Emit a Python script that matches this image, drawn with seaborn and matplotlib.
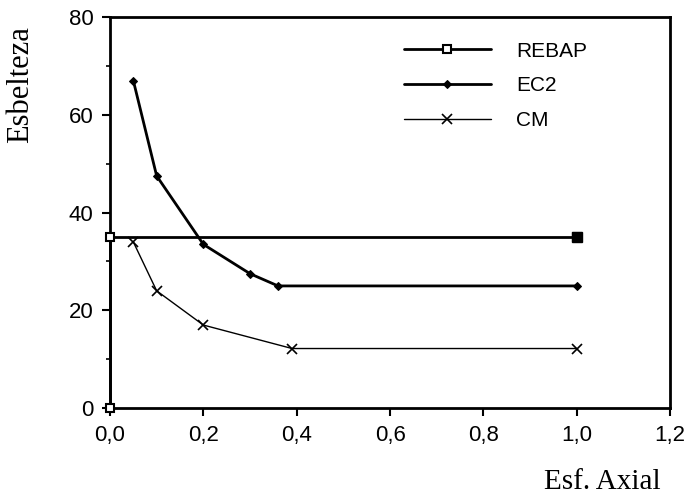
import matplotlib
matplotlib.use("Agg")
import matplotlib.pyplot as plt
import seaborn as sns
import pandas as pd
from matplotlib.ticker import MultipleLocator, FuncFormatter

rebap_x = [0.0, 0.0, 1.0]
rebap_y = [0.0, 35.0, 35.0]
ec2_x = [0.05, 0.10, 0.20, 0.30, 0.36, 1.0]
ec2_y = [67.0, 47.5, 33.5, 27.5, 25.0, 25.0]
cm_x = [0.05, 0.10, 0.20, 0.39, 1.0]
cm_y = [34.0, 24.0, 17.0, 12.2, 12.2]
x_ticks = [0.0, 0.2, 0.4, 0.6, 0.8, 1.0, 1.2]
y_ticks = [0, 20, 40, 60, 80]

sns.set_style("ticks")
plt.rcParams['font.family'] = ['Liberation Sans', 'DejaVu Sans']
plt.rcParams['text.color'] = 'black'

fig = plt.figure(figsize=(6.96, 4.99), dpi=100)
ax = fig.add_axes([0.158, 0.182, 0.805, 0.784])

series = [
    ("REBAP", rebap_x, rebap_y, dict(marker='s', markersize=6, markerfacecolor='white',
                                     markeredgecolor='black', markeredgewidth=1.5, linewidth=2.0)),
    ("EC2", ec2_x, ec2_y, dict(marker='D', markersize=4.5, markerfacecolor='black',
                               markeredgecolor='black', linewidth=2.0)),
    ("CM", cm_x, cm_y, dict(marker='x', markersize=7, markeredgecolor='black',
                            markeredgewidth=1.2, linewidth=1.0)),
]
for name, xs, ys, kw in series:
    df = pd.DataFrame({"x": xs, "y": ys})
    sns.lineplot(data=df, x="x", y="y", ax=ax, color='black', sort=False,
                 estimator=None, label=name, clip_on=False, zorder=5, **kw)

# filled end square for REBAP
ax.plot([rebap_x[-1]], [rebap_y[-1]], marker='s', markersize=7, color='black',
        linestyle='none', zorder=6)

ax.set_xlim(0, 1.2)
ax.set_ylim(0, 80)
ax.set_xticks(x_ticks)
ax.set_yticks(y_ticks)
ax.yaxis.set_minor_locator(MultipleLocator(10))
ax.xaxis.set_major_formatter(FuncFormatter(lambda v, p: f"{v:.1f}".replace('.', ',')))
ax.tick_params(axis='both', which='major', direction='out', length=6, width=1.5,
               labelsize=16, pad=6, colors='black')
ax.tick_params(axis='y', which='minor', direction='out', length=3, width=1.2, colors='black')
for s in ax.spines.values():
    s.set_linewidth(2.0)
    s.set_color('black')
ax.set_xlabel("")
ax.set_ylabel("")

leg = ax.legend(loc='upper right', bbox_to_anchor=(0.885, 0.985), frameon=False,
                fontsize=15, handlelength=4.2, labelspacing=0.75, handletextpad=1.2)

fig.text(0.03, 0.83, "Esbelteza", rotation=90, ha='center', va='center',
         fontsize=22, family=['Liberation Serif', 'DejaVu Serif'])
fig.text(0.865, 0.035, "Esf. Axial", ha='center', va='center',
         fontsize=21, family=['Liberation Serif', 'DejaVu Serif'])

fig.savefig("out.png", dpi=100)
